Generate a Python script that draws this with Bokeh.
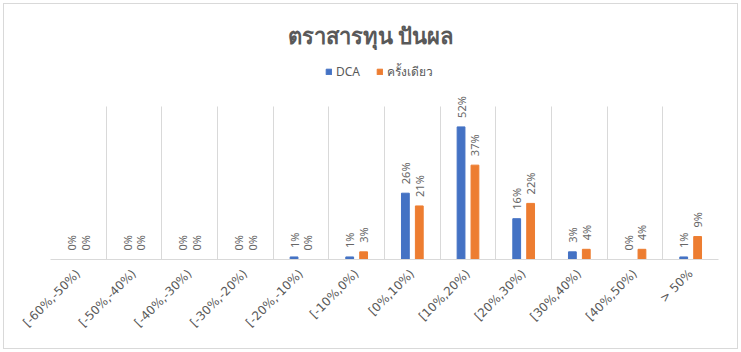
import math
from bokeh.plotting import figure
from bokeh.models import (ColumnDataSource, Range1d, FixedTicker, Legend,
                          LegendItem, Label)
from bokeh.transform import dodge
from bokeh.core.properties import value
from bokeh.embed import file_html
from bokeh.resources import INLINE

title_text = "ตราสารทุน ปันผล"
categories = ["[-60%,-50%)", "[-50%,-40%)", "[-40%,-30%)", "[-30%,-20%)",
              "[-20%,-10%)", "[-10%,0%)", "[0%,10%)", "[10%,20%)",
              "[20%,30%)", "[30%,40%)", "[40%,50%)", "> 50%"]
series_names = ["DCA", "ครั้งเดียว"]
dca = [0, 0, 0, 0, 1, 1, 26, 52, 16, 3, 0, 1]
once = [0, 0, 0, 0, 0, 3, 21, 37, 22, 4, 4, 9]
y_max = 60  # value axis maximum (grid top)

BLUE = "#4472C4"
ORANGE = "#ED7D31"
GRAY = "#595959"
LBL_GRAY = "#666666"
LINE = "#D9D9D9"
FONT = "Noto Sans"

# layout in pixels
W, H = 741, 352
LEFT, RIGHT, BOTTOM = 50, 23, 93
PLOT_TOP = 106          # pixel row where the value axis reaches y_max
base_y = H - BOTTOM     # pixel row of the baseline
ppu = (base_y - PLOT_TOP) / y_max
n = len(categories)
cat_w = (W - LEFT - RIGHT) / n


def px_to_x(px):
    return -0.5 + (px - LEFT) / cat_w


def py_to_y(py):
    return (base_y - py) / ppu


idx = list(range(n))
src = ColumnDataSource(dict(
    x=idx, dca=dca, once=once,
    dca_lbl=[f"{v}%" for v in dca],
    once_lbl=[f"{v}%" for v in once],
))

p = figure(width=W, height=H, output_backend="svg", toolbar_location=None,
           x_range=Range1d(-0.5, n - 0.5), y_range=Range1d(0, py_to_y(0)),
           min_border_left=LEFT, min_border_right=RIGHT, min_border_top=0,
           min_border_bottom=BOTTOM, title=None)
p.outline_line_color = None
# transparent canvas so that the page-level chart border (drawn with CSS) shows
p.background_fill_color = None
p.border_fill_color = None
p.styles = {"background-color": "white",
            "box-shadow": "inset 0 0 0 3px white, inset 0 0 0 4px #D9D9D9"}

p.yaxis.visible = False
p.ygrid.visible = False
p.xgrid.ticker = FixedTicker(ticks=[i - 0.5 for i in idx])
p.xgrid.grid_line_color = LINE
p.xgrid.cross_bounds = (0, y_max)

p.xaxis.ticker = FixedTicker(ticks=idx)
p.xaxis.major_label_overrides = {i: c for i, c in zip(idx, categories)}
p.xaxis.major_label_orientation = math.pi / 4
p.xaxis.major_tick_line_color = None
p.xaxis.minor_tick_line_color = None
p.xaxis.axis_line_color = LINE
p.xaxis.major_label_text_font = "DejaVu Sans"
p.xaxis.major_label_text_font_size = "12px"
p.xaxis.major_label_text_color = GRAY
p.xaxis.major_label_standoff = 6

off = 0.125
w = 0.14
r1 = p.vbar(x=dodge("x", -off), top="dca", width=w, source=src, color=BLUE)
r2 = p.vbar(x=dodge("x", off), top="once", width=w, source=src, color=ORANGE)

for col, lbl, o in (("dca", "dca_lbl", -off), ("once", "once_lbl", off)):
    p.text(x=dodge("x", o), y=col, text=lbl, source=src, angle=math.pi / 2,
           text_align="left", text_baseline="middle", y_offset=-9,
           text_font=value(FONT), text_font_size="11px", text_color=LBL_GRAY)

legend = Legend(items=[LegendItem(label=series_names[0], renderers=[r1]),
                       LegendItem(label=series_names[1], renderers=[r2])],
                orientation="horizontal", location=(325 - LEFT, base_y - 81),
                glyph_width=7, glyph_height=7, label_standoff=4, spacing=16,
                padding=0, margin=0, border_line_color=None,
                background_fill_alpha=0, label_height=12,
                label_text_font=FONT, label_text_font_size="12px",
                label_text_color=GRAY)
p.add_layout(legend, "center")

p.add_layout(Label(x=px_to_x(370), y=py_to_y(34), text=title_text,
                   text_align="center", text_baseline="middle",
                   text_font=FONT, text_font_size="22px",
                   text_font_style="bold", text_color=GRAY))

open("out.html", "w").write(file_html(p, INLINE))
